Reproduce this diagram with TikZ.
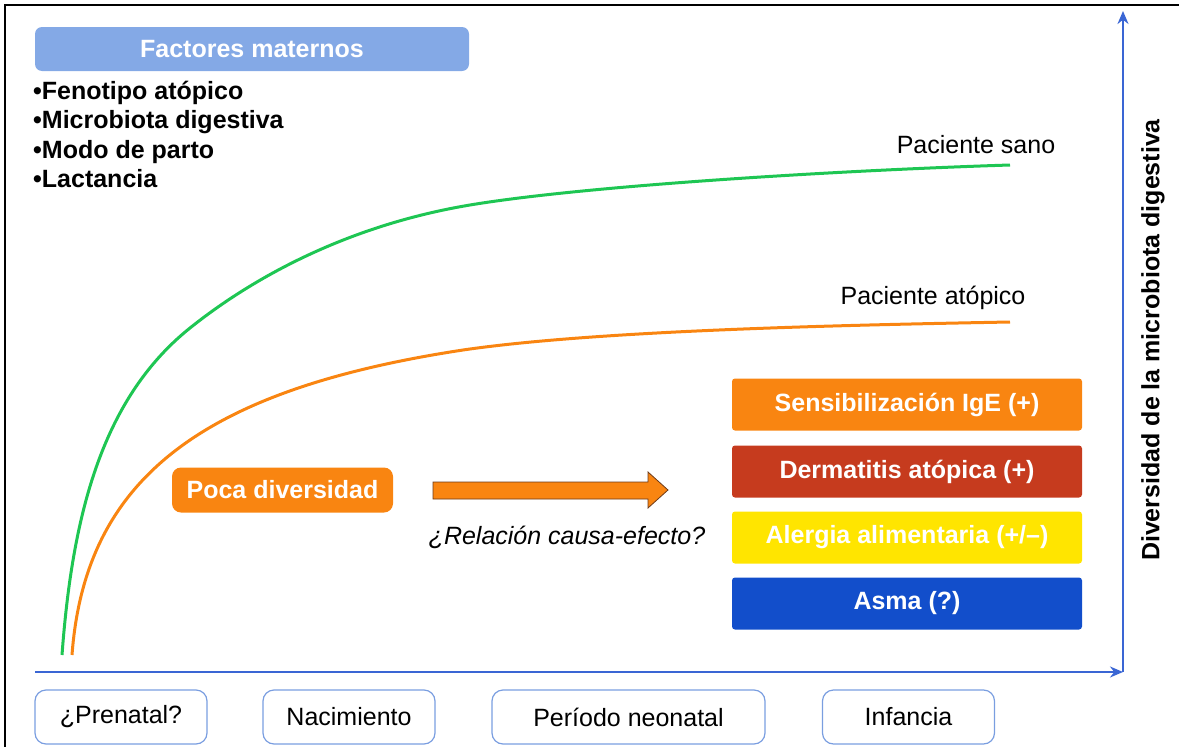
\documentclass[tikz,border=0pt]{standalone}
\usepackage{fontspec}
\setmainfont{Liberation Sans}
\usetikzlibrary{arrows.meta}

\definecolor{azulclaro}{HTML}{84A9E6}
\definecolor{naranja}{HTML}{F98511}
\definecolor{rojo}{HTML}{C63B1E}
\definecolor{amarillo}{HTML}{FFE500}
\definecolor{azul}{HTML}{124ECB}
\definecolor{eje}{HTML}{3A66D4}
\definecolor{borde}{HTML}{7A9EE0}
\definecolor{verde}{HTML}{1EC653}
\definecolor{marron}{HTML}{6B3A1A}

\begin{document}
\begin{tikzpicture}[
    x=1pt, y=-1pt,
    texto/.style={font=\fontsize{25}{29}\selectfont},
    negrita/.style={font=\fontsize{25}{29}\selectfont\bfseries},
    caja/.style={negrita, text=white, inner sep=0pt, rounded corners=3pt,
                 minimum width=350pt, minimum height=52pt},
    etapa/.style={texto, draw=borde, line width=1.2pt, rounded corners=11pt,
                  inner sep=0pt, minimum height=54pt},
    axis/.style={eje, line width=2pt, -{Stealth[length=13pt,width=11pt]}}]
    \useasboundingbox (0,0) rectangle (1179,747);

    % Marco
    \draw[line width=2pt] (5,747) -- (5,5) -- (1179,5);

    % Ejes
    \coordinate (origen) at (1123,672);
    \draw[axis] (35,672) -- (origen);
    \draw[axis] (origen) -- (1123,11);
    \node[negrita, rotate=90] (ylabel) at (1153,340) {Diversidad de la microbiota digestiva};

    % Factores maternos
    \node[negrita, text=white, fill=azulclaro, rounded corners=7pt, inner sep=0pt,
          minimum width=434pt, minimum height=44pt] (factores) at (252,49) {Factores maternos};
    \foreach \item/\yy [count=\i] in {Fenotipo atópico/99, Microbiota digestiva/128.5,
                                      Modo de parto/158, Lactancia/187.5}
        \node[negrita, anchor=base west, inner sep=0pt] (item\i) at (33,\yy) {•\item};

    % Curvas
    \draw[verde, line width=3pt] (62,655) .. controls (72,520) and (100,400) .. (190,328)
                                          .. controls (255,276) and (350,225) .. (470,205)
                                          .. controls (590,185) and (850,170) .. (1010,165);
    \draw[naranja, line width=3pt] (72,655) .. controls (85,480) and (200,390) .. (463,350)
                                            .. controls (600,330) and (850,325) .. (1010,322);
    \node[texto] (sano) at (976,145) {Paciente sano};
    \node[texto] (atopico) at (933,298) {Paciente atópico};

    % Poca diversidad
    \node[negrita, text=white, fill=naranja, rounded corners=9pt, inner sep=0pt,
          minimum width=221pt, minimum height=45pt] (poca) at (282.5,490) {Poca diversidad};
    \draw[fill=naranja, draw=marron, line width=0.8pt]
        (433,482) -- (648,482) -- (648,472) -- (668,490) -- (648,508) -- (648,499) -- (433,499) -- cycle;
    \node[texto, font=\fontsize{25}{29}\selectfont\itshape] (relacion) at (567,537) {¿Relación causa-efecto?};

    % Enfermedades
    \node[caja, fill=naranja] (ige) at (907,404.5) {Sensibilización IgE (+)};
    \node[caja, fill=rojo] (dermatitis) at (907,471.5) {Dermatitis atópica (+)};
    \node[caja, fill=amarillo] (alergia) at (907,537.5) {Alergia alimentaria (+/–)};
    \node[caja, fill=azul] (asma) at (907,603.5) {Asma (?)};

    % Etapas
    \node[etapa, minimum width=172pt] (prenatal) at (121,717) {¿Prenatal?};
    \node[etapa, minimum width=172pt] (nacimiento) at (349,717) {Nacimiento};
    \node[etapa, minimum width=273pt] (neonatal) at (628.5,717) {Período neonatal};
    \node[etapa, minimum width=172pt] (infancia) at (908.5,717) {Infancia};
\end{tikzpicture}
\end{document}
